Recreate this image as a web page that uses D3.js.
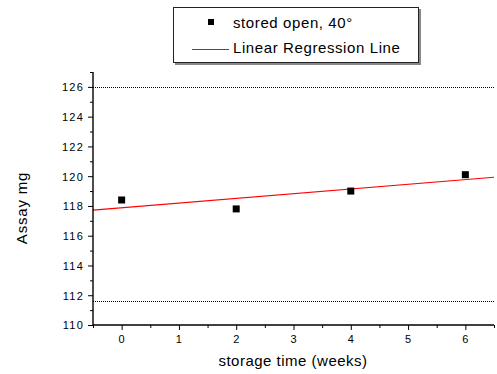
<!DOCTYPE html>
<html>
<head>
<meta charset="utf-8">
<script src="https://cdn.jsdelivr.net/npm/d3@7"></script>
<style>
  body { margin: 0; background: #fff; }
  svg { font-family: Arial, "Liberation Sans", sans-serif; }
</style>
</head>
<body>
<div id="chart"></div>
<script>
const weeks = [0, 2, 4, 6];
const assay = [118.4, 117.8, 119.0, 120.1];
const limits = [126, 111.6];
const xTicks = [0, 1, 2, 3, 4, 5, 6];
const yTicks = [110, 112, 114, 116, 118, 120, 122, 124, 126];

const width = 497, height = 374;
const margin = { left: 93, right: 3, top: 72, bottom: 49 };

const svg = d3.select('#chart')
    .append('svg')
    .attr('width', width)
    .attr('height', height);

const x = d3.scaleLinear()
    .domain([-0.5, 6.5])
    .range([margin.left, width - margin.right]);

const y = d3.scaleLinear()
    .domain([110, 127])
    .range([height - margin.bottom, margin.top]);

// limit lines
svg.append('g')
    .selectAll('line')
    .data(limits)
    .enter()
    .append('line')
    .attr('x1', x(-0.5))
    .attr('x2', x(6.5))
    .attr('y1', d => Math.round(y(d)) + 0.5)
    .attr('y2', d => Math.round(y(d)) + 0.5)
    .attr('stroke', '#000')
    .attr('stroke-width', 1)
    .attr('stroke-dasharray', '1,1');

// regression line from the data
const mx = d3.mean(weeks), my = d3.mean(assay);
const slope = d3.sum(weeks, (w, i) => (w - mx) * (assay[i] - my)) / d3.sum(weeks, w => (w - mx) ** 2);
const icpt = my - slope * mx;
const fitX = x.domain();

svg.append('line')
    .attr('x1', x(fitX[0]))
    .attr('x2', x(fitX[1]))
    .attr('y1', y(icpt + slope * fitX[0]))
    .attr('y2', y(icpt + slope * fitX[1]))
    .attr('stroke', '#ff0000')
    .attr('stroke-width', 1.2);

// points
svg.append('g')
    .selectAll('rect')
    .data(weeks)
    .enter()
    .append('rect')
    .attr('x', (d) => x(d) - 3.5)
    .attr('y', (d, i) => y(assay[i]) - 3.5)
    .attr('width', 7)
    .attr('height', 7)
    .attr('fill', '#000');

// axes
const xAxis = svg.append('g')
    .attr('transform', `translate(0,${height - margin.bottom})`);
xAxis.call(d3.axisBottom(x).tickValues(d3.range(-0.5, 6.51, 0.5)).tickSize(3).tickFormat(''));
xAxis.call(g => g.selectAll('.tick').filter(d => xTicks.includes(d)).select('line').attr('y2', 5));
xAxis.call(g => g.selectAll('.tick').filter(d => xTicks.includes(d)).append('text')
    .attr('y', 18).attr('fill', '#000').attr('text-anchor', 'middle')
    .attr('font-size', 11).attr('letter-spacing', 1).text(d => d));

const yAxis = svg.append('g')
    .attr('transform', `translate(${margin.left},0)`);
yAxis.call(d3.axisLeft(y).tickValues(d3.range(110, 127.5, 1)).tickSize(3).tickFormat(''));
yAxis.call(g => g.selectAll('.tick').filter(d => yTicks.includes(d)).select('line').attr('x2', -5));
yAxis.call(g => g.selectAll('.tick').filter(d => yTicks.includes(d)).append('text')
    .attr('x', -9).attr('dy', '0.36em').attr('fill', '#000').attr('text-anchor', 'end')
    .attr('font-size', 11).attr('letter-spacing', 1.2).text(d => d));

svg.selectAll('.domain').attr('stroke-width', 1.4);
xAxis.select('.domain').attr('d', `M${x(-0.5)},0H${x(6.5)}`);
yAxis.select('.domain').attr('d', `M0,${y(110)}V${y(127)}`);

// axis titles
svg.append('text')
    .attr('x', 293)
    .attr('y', 366)
    .attr('text-anchor', 'middle')
    .attr('font-size', 15)
    .attr('letter-spacing', 0.5)
    .text('storage time (weeks)');

svg.append('text')
    .attr('transform', `translate(27,208) rotate(-90)`)
    .attr('text-anchor', 'middle')
    .attr('font-size', 15)
    .attr('letter-spacing', 0.8)
    .text('Assay mg');

// legend
const legend = svg.append('g');
legend.append('rect')
    .attr('x', 175).attr('y', 9).attr('width', 246).attr('height', 56)
    .attr('fill', '#888');
legend.append('rect')
    .attr('x', 173.5).attr('y', 7.5).attr('width', 245).attr('height', 55)
    .attr('fill', '#fff').attr('stroke', '#222').attr('stroke-width', 1);
legend.append('rect')
    .attr('x', 208).attr('y', 19).attr('width', 6).attr('height', 6).attr('fill', '#000');
legend.append('line')
    .attr('x1', 192).attr('x2', 229).attr('y1', 49.5).attr('y2', 49.5)
    .attr('stroke', '#ff0000').attr('stroke-width', 1);
legend.append('text')
    .attr('x', 233).attr('y', 28).attr('font-size', 15).attr('letter-spacing', 0.6).text('stored open, 40°');
legend.append('text')
    .attr('x', 233).attr('y', 53).attr('font-size', 15).attr('letter-spacing', 0.6).text('Linear Regression Line');
</script>
</body>
</html>
